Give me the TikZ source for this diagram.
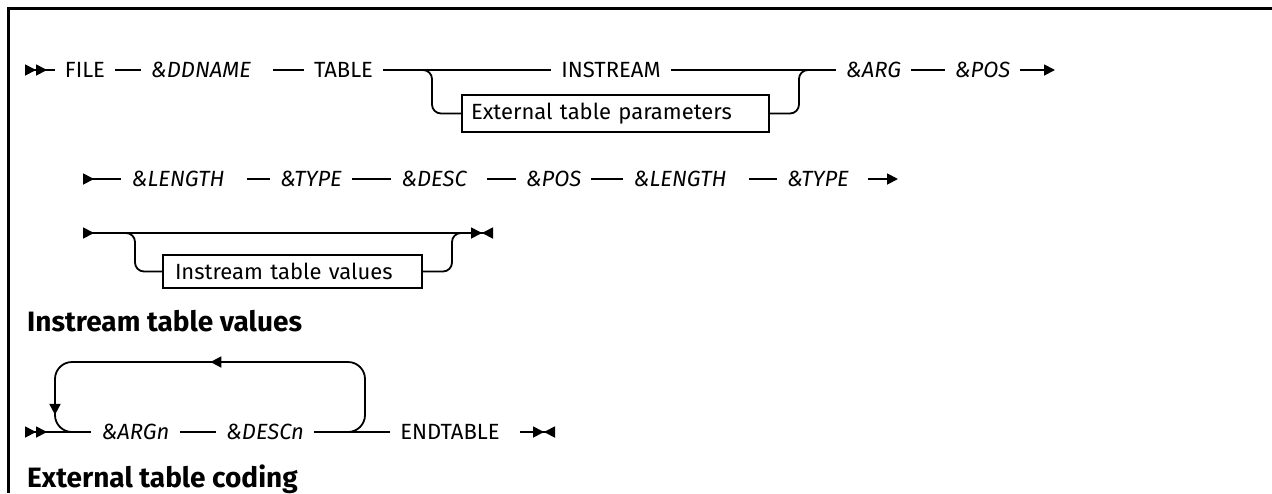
\documentclass[tikz,border=0pt]{standalone}
\usepackage{fontspec}
\setmainfont{Fira Sans}
\usetikzlibrary{arrows.meta, decorations.markings}

\tikzset{
	ra/.tip={Triangle[length=11pt,width=11pt,sep=0pt]},
	la/.tip={Triangle[length=11pt,width=11pt,sep=0pt,reversed]}
}

\begin{document}
\begin{tikzpicture}[x=1pt,y=-1pt]
	\tikzstyle{word}=[inner xsep=10pt, inner ysep=2pt, font=\fontsize{22}{26}\selectfont]
	\tikzstyle{var}=[word, font=\fontsize{22}{26}\selectfont\itshape]
	\tikzstyle{refbox}=[draw, line width=1.8pt, inner xsep=9pt, align=left, font=\fontsize{22}{26}\selectfont]
	\tikzstyle{head}=[anchor=base west, inner sep=0pt, font=\fontsize{28}{32}\selectfont\bfseries]
	\tikzstyle{rail}=[line width=1.8pt]
	\tikzstyle{twoin}=[{la[]la[]}-]
	\tikzstyle{onein}=[{la[]}-]
	\tikzstyle{contd}=[-{ra[]}]
	\tikzstyle{finish}=[-{ra[]la[]}]
	\tikzstyle{optend}=[{la[]}-{ra[]la[]}]
	\tikzstyle{loopmarks}=[postaction={decorate}, decoration={markings,
		mark=at position 230pt with {\arrow{ra}},
		mark=at position 431pt with {\arrow{ra}}}]
	\useasboundingbox (0,0) rectangle (1272,493);
	% frame
	\draw[line width=2.6pt] (1272,8.5) -- (8.5,8.5) -- (8.5,493);

	% first line
	\coordinate (in1) at (25,70);
	\node[word] (file) at (85,70) {FILE};
	\node[var] (ddname) at (201,70) {\&DDNAME};
	\node[word] (table) at (343.5,70) {TABLE};
	\node[word] (instream) at (611,70) {INSTREAM};
	\node[refbox, text width=289pt, minimum height=37pt] (ext) at (615.5,113.5) {External table parameters};
	\node[var] (arg) at (873.5,70) {\&ARG};
	\node[var] (pos1) at (982.5,70) {\&POS};
	\coordinate (out1) at (1055,70);
	\coordinate (fork1) at (422,70);
	\coordinate (join1) at (799,70);
	\path[rail]
		(in1) edge[twoin] (file)
		(file) edge (ddname)
		(ddname) edge[shorten <=12pt] (table)
		(table) edge (instream)
		(instream) edge (arg)
		(arg) edge (pos1)
		(pos1) edge[contd] (out1);
	\draw[rail, rounded corners=9pt] (fork1) -- ++(10,0) |- (ext);
	\draw[rail, rounded corners=9pt] (ext) -| (join1) -- ++(10,0);

	% second line
	\coordinate (in2) at (83,179);
	\node[var] (len1) at (178,179) {\&LENGTH};
	\node[var] (type1) at (311,179) {\&TYPE};
	\node[var] (desc) at (434,179) {\&DESC};
	\node[var] (pos2) at (553.5,179) {\&POS};
	\node[var] (len2) at (680,179) {\&LENGTH};
	\node[var] (type2) at (818,179) {\&TYPE};
	\coordinate (out2) at (898,179);
	\path[rail]
		(in2) edge[onein] (len1)
		(len1) edge[shorten <=12pt] (type1)
		(type1) edge (desc)
		(desc) edge[shorten <=10pt] (pos2)
		(pos2) edge (len2)
		(len2) edge[shorten <=12pt] (type2)
		(type2) edge[contd, shorten <=9pt] (out2);

	% third line
	\coordinate (in3) at (83,233);
	\coordinate (out3) at (493,233);
	\coordinate (fork3) at (125,233);
	\coordinate (join3) at (452,233);
	\node[refbox, inner xsep=12pt, text width=235pt, minimum height=33pt] (itv) at (292.5,271.5) {Instream table values};
	\draw[rail, optend] (in3) -- (out3);
	\draw[rail, rounded corners=9pt] (fork3) -- ++(10,0) |- (itv);
	\draw[rail, rounded corners=9pt] (itv) -| (join3) -- ++(10,0);

	% instream table values
	\node[head] (h1) at (27,331) {Instream table values};
	\coordinate (in4) at (25,432);
	\node[var] (argn) at (135.5,432) {\&ARGn};
	\node[var] (descn) at (265,432) {\&DESCn};
	\node[word] (endtable) at (450,432) {ENDTABLE};
	\coordinate (out4) at (555,432);
	\coordinate (back4) at (345,432);
	\coordinate (again4) at (72,432);
	\path[rail]
		(in4) edge[twoin] (argn)
		(argn) edge (descn)
		(descn) edge (endtable)
		(endtable) edge[finish, shorten <=10pt] (out4);
	\draw[rail, rounded corners=17pt, loopmarks] (back4) -- ++(20,0) -- ++(0,-70) -- ++(-310,0) -- ++(0,70) -- (again4);

	\node[head] (h2) at (27,487) {External table coding};
\end{tikzpicture}
\end{document}
